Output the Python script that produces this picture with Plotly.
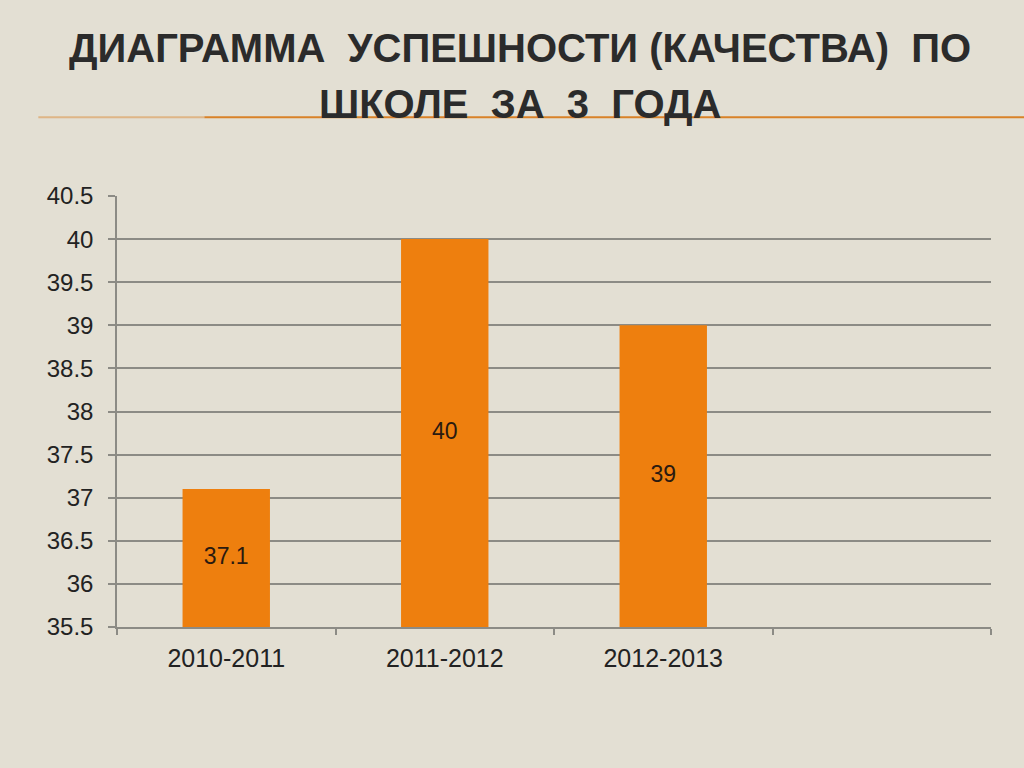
import plotly.graph_objects as go

# chart data
years = ["2010-2011", "2011-2012", "2012-2013", " "]
quality = [37.1, 40, 39, None]
y_ticks = [35.5, 36, 36.5, 37, 37.5, 38, 38.5, 39, 39.5, 40, 40.5]
y_min, y_max = 35.5, 40.5

title_line1 = "ДИАГРАММА  УСПЕШНОСТИ (КАЧЕСТВА)  ПО"
title_line2 = "ШКОЛЕ  ЗА  3  ГОДА"

bar_color = "#EE7F0E"
grid_color = "#8C8B85"

fig = go.Figure()

fig.add_trace(go.Bar(
    x=years,
    y=quality,
    marker=dict(color=bar_color, line=dict(width=0)),
    hoverinfo="skip",
    showlegend=False,
))

# value labels centred in the visible part of each bar
shown = [(c, v) for c, v in zip(years, quality) if v is not None]
fig.add_trace(go.Scatter(
    x=[c for c, v in shown],
    y=[(v + y_min) / 2 for c, v in shown],
    mode="text",
    text=[f"{v:g}" for c, v in shown],
    textfont=dict(size=23, color="#2A1A10", family="Liberation Sans, Arial"),
    hoverinfo="skip",
    showlegend=False,
))

# title, two lines
for txt, ypos in [(title_line1, 1.343), (title_line2, 1.213)]:
    fig.add_annotation(
        text=f"<b>{txt}</b>",
        x=0.461, y=ypos, xref="paper", yref="paper",
        showarrow=False, xanchor="center", yanchor="middle",
        font=dict(size=40, color="#2B2B2B", family="Liberation Sans, Arial"),
    )

# orange rule under the title
fig.add_shape(type="line", xref="paper", yref="paper",
              x0=-0.09, x1=0.1, y0=1.183, y1=1.183,
              line=dict(color="rgba(217,130,40,0.45)", width=2))
fig.add_shape(type="line", xref="paper", yref="paper",
              x0=0.1, x1=1.04, y0=1.183, y1=1.183,
              line=dict(color="#D98228", width=2))

fig.update_layout(
    width=1024, height=768,
    margin=dict(l=117, r=33, t=196, b=141),
    paper_bgcolor="#E3DFD3",
    plot_bgcolor="rgba(0,0,0,0)",
    bargap=0.6,
    font=dict(family="Liberation Sans, Arial", color="#222222"),
    xaxis=dict(
        type="category",
        categoryorder="array", categoryarray=years,
        showgrid=False,
        showline=True, linecolor=grid_color, linewidth=1.5,
        ticks="outside", tickson="boundaries", ticklen=6,
        tickcolor=grid_color, tickwidth=1.5,
        tickfont=dict(size=25, color="#222222"),
        ticklabelstandoff=8,
        fixedrange=True,
    ),
    yaxis=dict(
        range=[y_min, y_max],
        tickvals=y_ticks,
        ticktext=[f"{t:g}" for t in y_ticks],
        showgrid=True, gridcolor=grid_color, gridwidth=1.5,
        zeroline=False,
        showline=True, linecolor=grid_color, linewidth=1.5,
        ticks="outside", ticklen=7, tickcolor=grid_color, tickwidth=1.5,
        tickfont=dict(size=24, color="#222222"),
        ticklabelstandoff=10,
        fixedrange=True,
    ),
)

fig.write_html("out.html", config={"displayModeBar": False},
               post_script="document.body.style.margin='0';")
